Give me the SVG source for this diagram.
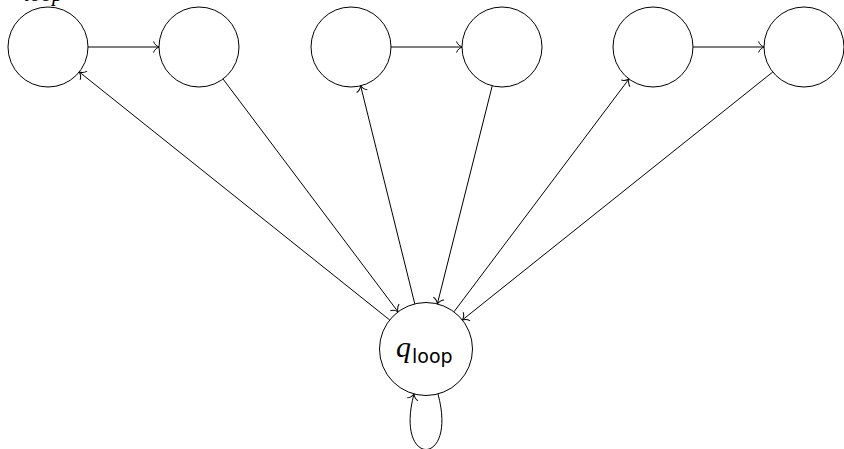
<svg xmlns="http://www.w3.org/2000/svg" width="844" height="449" viewBox="0 0 844 449">
<style>
.st{fill:#fff;stroke:#000;stroke-width:1}
.e{fill:none;stroke:#000;stroke-width:1;marker-end:url(#ar)}
.lbl{font-family:"Liberation Serif",serif;font-style:italic}
</style>
<defs>
<marker id="ar" markerUnits="userSpaceOnUse" viewBox="-7 -7 9 14" markerWidth="9" markerHeight="14" refX="0" refY="0" orient="auto" overflow="visible">
<path d="M-5.5,-5.5 C-4.5,-2.2 -1.2,-0.5 0,0 C-1.2,0.5 -4.5,2.2 -5.5,5.5" fill="none" stroke="#000" stroke-width="1"/>
</marker>
</defs>
<rect width="844" height="449" fill="#fff"/>
<text class="lbl" x="24" y="1" font-size="22">loop</text>
<g id="edges">
<line class="e" x1="88" y1="47" x2="159" y2="47"/>
<line class="e" x1="391" y1="47" x2="462" y2="47"/>
<line class="e" x1="693" y1="47" x2="764" y2="47"/>
<line class="e" x1="389.67" y1="319.97" x2="79.25" y2="71.97"/>
<line class="e" x1="223" y1="78.97" x2="398.06" y2="311.83"/>
<line class="e" x1="414.79" y1="303.87" x2="360.64" y2="85.82"/>
<line class="e" x1="492.24" y1="85.79" x2="437.35" y2="303.9"/>
<line class="e" x1="453.94" y1="311.83" x2="628.97" y2="78.97"/>
<line class="e" x1="772.75" y1="71.97" x2="462.33" y2="319.97"/>
<path class="e" d="M438,394 C458,468 394,468 414,394"/>
</g>
<g id="n1"><circle class="st" cx="48" cy="47" r="40"/></g>
<g id="n2"><circle class="st" cx="199" cy="47" r="40"/></g>
<g id="n3"><circle class="st" cx="351" cy="47" r="40"/></g>
<g id="n4"><circle class="st" cx="502" cy="47" r="40"/></g>
<g id="n5"><circle class="st" cx="653" cy="47" r="40"/></g>
<g id="n6"><circle class="st" cx="804" cy="47" r="40"/></g>
<g id="qloop"><circle class="st" cx="426" cy="349" r="46.5"/>
<text x="396" y="357" font-family="Liberation Serif,serif" font-style="italic" font-size="30">q</text>
<text x="412" y="363" font-family="DejaVu Sans,sans-serif" font-size="19">loop</text>
</g>
</svg>
